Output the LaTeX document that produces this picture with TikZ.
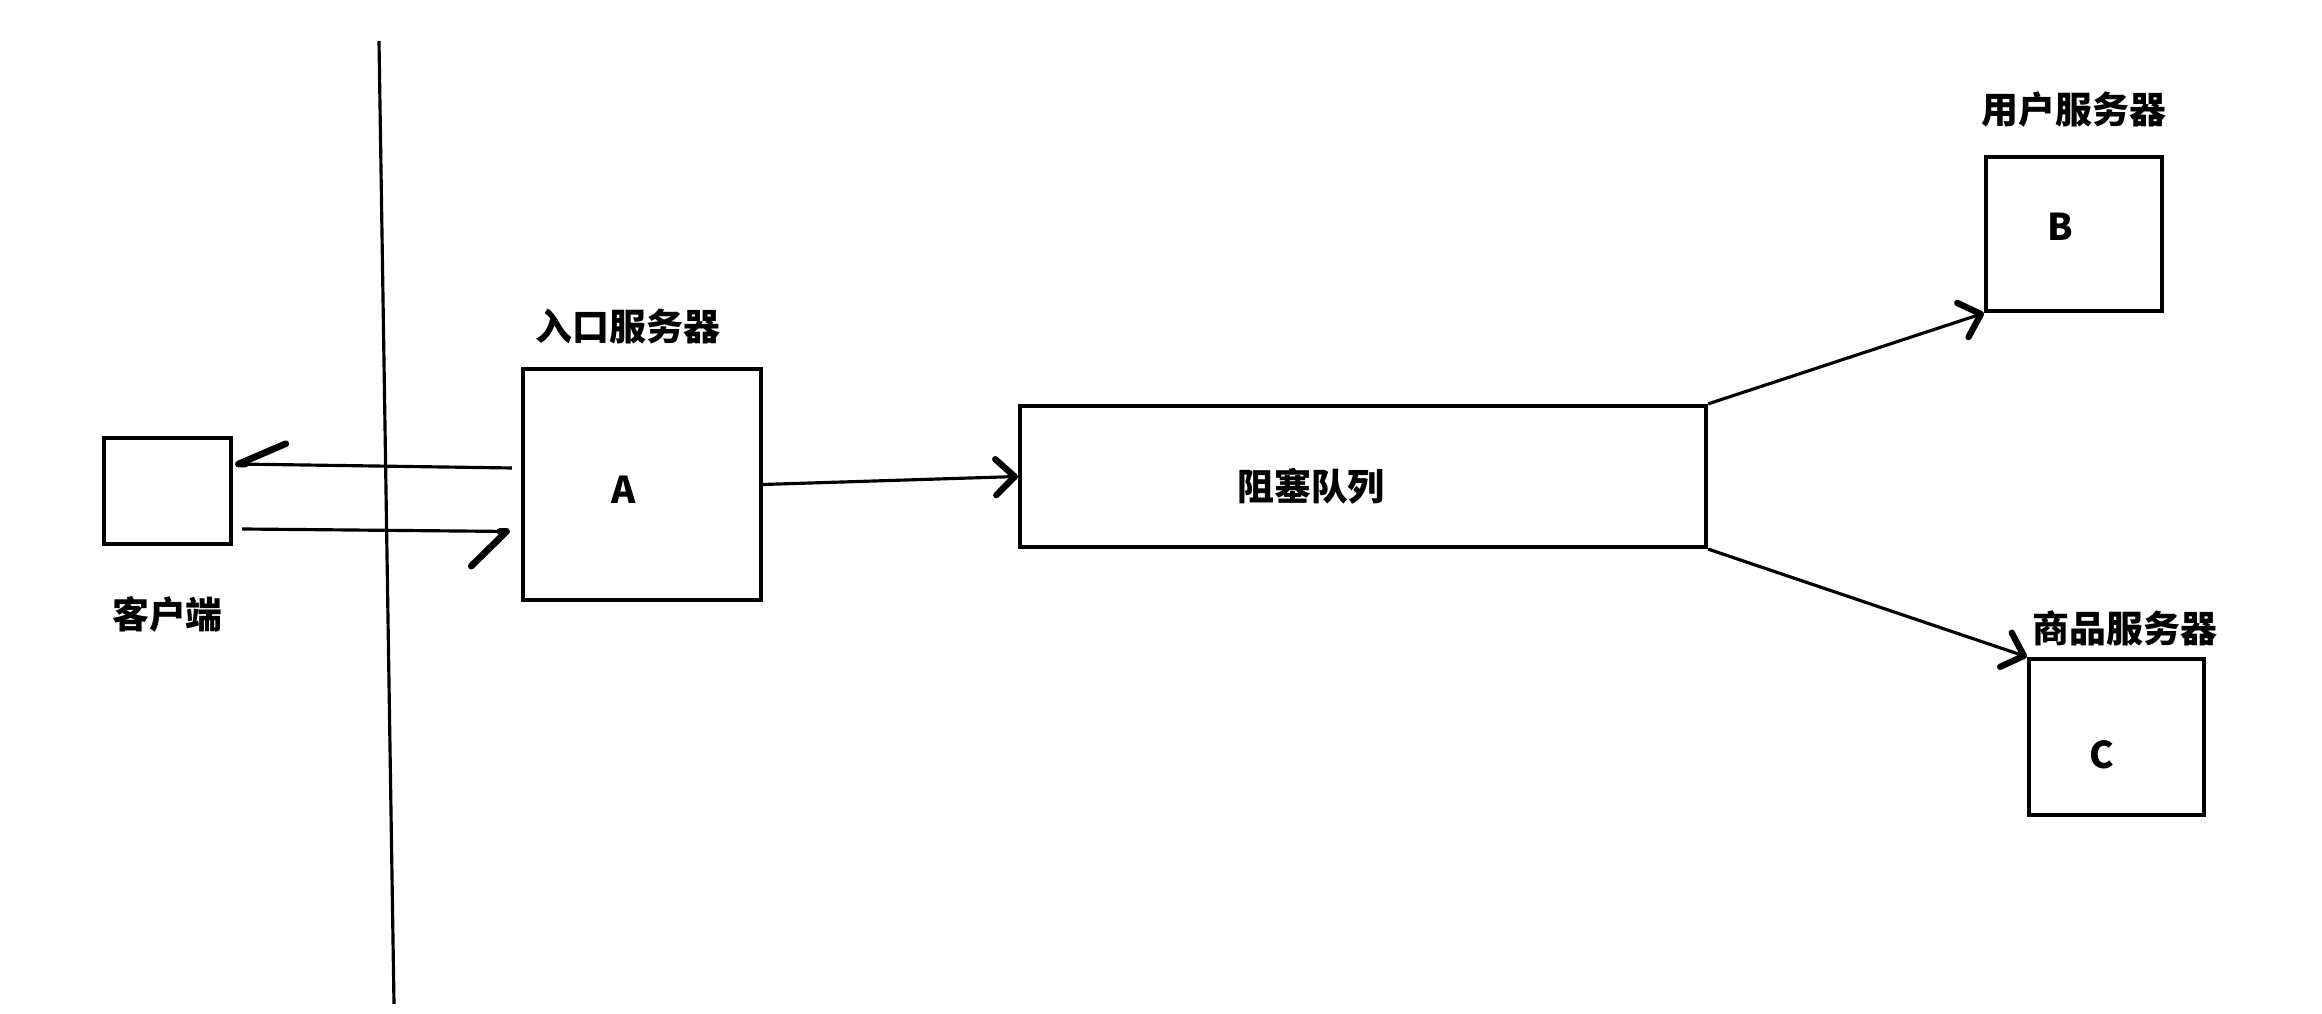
\documentclass[tikz,border=0pt]{standalone}
\usepackage{fontspec}
\newfontfamily\cjk{Noto Sans CJK SC}
\usetikzlibrary{arrows.meta, positioning}
\tikzstyle{server} = [rectangle, draw=black, line width=1.2pt, inner sep=0pt]
\tikzstyle{tag} = [font=\cjk\bfseries\fontsize{10.5}{12}\selectfont, inner sep=0pt]
\tikzstyle{arrow} = [line width=0.9pt, -{Straight Barb[round, length=0.19cm, width=0.36cm, line width=1.8pt]}]
\tikzstyle{hookup} = [line width=0.9pt, -{Straight Barb[harpoon, swap, round, length=0.47cm, width=0.42cm, line width=1.9pt]}]
\tikzstyle{hookdown} = [line width=0.9pt, -{Straight Barb[harpoon, swap, round, length=0.35cm, width=0.7cm, line width=1.9pt]}]

\begin{document}
\begin{tikzpicture}
    \useasboundingbox (0,0) rectangle (23.22,10.14);
    % the wall
    \draw [line width=0.9pt] (3.79,9.73) -- (3.94,0.10);

    \node (client) [server, minimum width=1.27cm, minimum height=1.06cm] at (1.675,5.23) {};
    \node (clientname) [tag, below=0.5cm of client] {客户端};

    \node (A) [server, minimum width=2.38cm, minimum height=2.31cm] at (6.42,5.295) {};
    \node (Aname) [tag, above=0.22cm of A, xshift=-0.14cm] {入口服务器};
    \node (Atext) [tag] at ([xshift=-0.18cm, yshift=-0.05cm]A.center) {A};

    \node (queue) [server, minimum width=6.86cm, minimum height=1.41cm] at (13.63,5.375) {};
    \node (queuetext) [tag] at ([xshift=-0.52cm, yshift=-0.1cm]queue.center) {阻塞队列};

    \node (B) [server, minimum width=1.76cm, minimum height=1.54cm] at (20.74,7.80) {};
    \node (Bname) [tag, above=0.27cm of B] {用户服务器};
    \node (Btext) [tag] at ([xshift=-0.14cm, yshift=0.07cm]B.center) {B};

    \node (C) [server, minimum width=1.75cm, minimum height=1.56cm] at (21.165,2.77) {};
    \node (Cname) [tag, above=0.1cm of C, xshift=0.085cm] {商品服务器};
    \node (Ctext) [tag] at ([xshift=-0.145cm, yshift=-0.18cm]C.center) {C};

    \draw [hookup] ([xshift=-0.09cm, yshift=0.165cm]A.west) -- ([xshift=0.02cm, yshift=0.27cm]client.east);
    \draw [hookdown] ([xshift=0.09cm, yshift=-0.38cm]client.east) -- ([xshift=-0.11cm, yshift=-0.47cm]A.west);
    \draw [arrow] (A.east) -- (queue.west);
    \draw [arrow] (queue.north east) -- (B.south west);
    \draw [arrow] (queue.south east) -- (C.north west);
\end{tikzpicture}
\end{document}
